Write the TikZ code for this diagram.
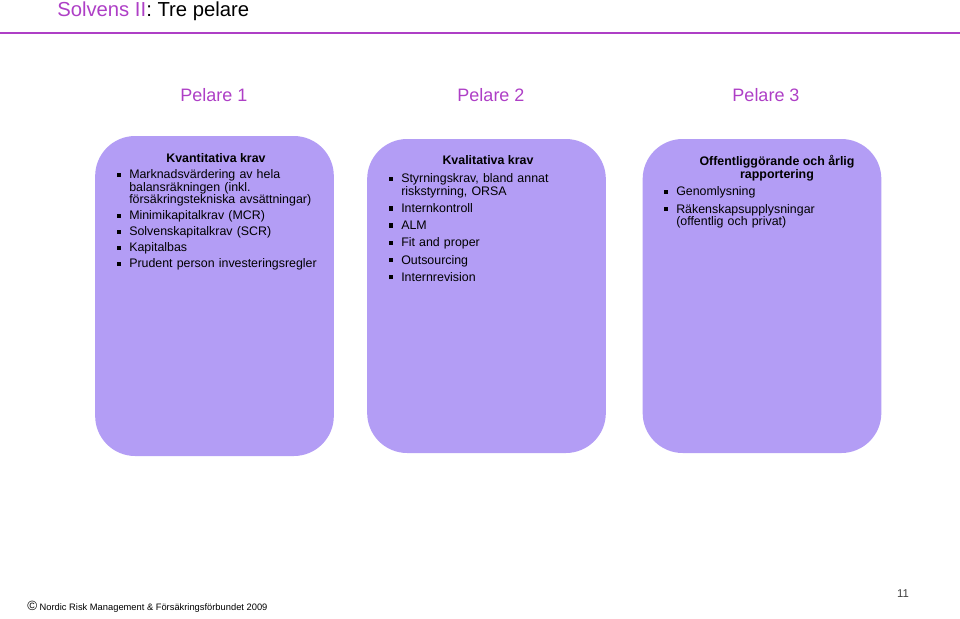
\documentclass[tikz,border=0pt]{standalone}
\usepackage{fontspec}
\setmainfont{Liberation Sans}
\usepackage{enumitem}
\usetikzlibrary{positioning}
\definecolor{Lavendel}{HTML}{B39DF5}
\definecolor{Lila}{HTML}{AE3FC6}

\newcommand{\fyrk}{\raisebox{1.5pt}{\rule{3.2pt}{3.2pt}}}
\newenvironment{punkter}[1][2.6pt]{\begin{itemize}[label=\fyrk, leftmargin=10.5pt, labelsep=6pt,
  itemsep=#1, topsep=0pt, parsep=0pt, partopsep=0pt]}{\end{itemize}}

\begin{document}
\begin{tikzpicture}[x=0.75pt, y=-0.75pt,
  pelare/.style={fill=Lavendel, rounded corners=30pt, inner sep=0pt,
                 minimum width=179pt},
  rubrik/.style={font=\fontsize{9.3}{9.8}\selectfont\bfseries, align=center},
  lista/.style={anchor=north west, inner sep=0pt, text width=160pt,
                font=\fontsize{9.3}{9.4}\selectfont},
  etikett/.style={font=\fontsize{13.5}{16}\selectfont, text=Lila}
]
  \useasboundingbox (0,0) rectangle (960,618);

  % rubrik
  \node[anchor=west, font=\fontsize{15.2}{18}\selectfont, inner sep=0pt] (titel)
    at (57,11) {\textcolor{Lila}{Solvens II}: Tre pelare};
  \coordinate (linjeV) at (0,33);
  \coordinate (linjeH) at (960,33);
  \draw[Lila, line width=2.2pt] (linjeV) -- (linjeH);

  \node[etikett] (e1) at (214,95) {Pelare 1};
  \node[etikett] (e2) at (491,95) {Pelare 2};
  \node[etikett] (e3) at (766,95) {Pelare 3};

  % pelarna
  \node[pelare, minimum height=240pt]   (p1) at (214.5,296) {};
  \node[pelare, minimum height=235.5pt] (p2) at (486.5,296) {};
  \node[pelare, minimum height=235.5pt] (p3) at (762,296) {};

  \node[rubrik] (r1) at (216,158) {Kvantitativa krav};
  \node[lista]  (l1) at (115,166) {%
    \begin{punkter}
      \item Marknadsvärdering av hela\\balansräkningen (inkl.\\försäkringstekniska avsättningar)
      \item Minimikapitalkrav (MCR)
      \item Solvenskapitalkrav (SCR)
      \item Kapitalbas
      \item Prudent person investeringsregler
    \end{punkter}};

  \node[rubrik] (r2) at (488,160.5) {Kvalitativa krav};
  \node[lista]  (l2) at (387,170) {%
    \begin{punkter}[3.5pt]
      \item Styrningskrav, bland annat\\riskstyrning, ORSA
      \item Internkontroll
      \item ALM
      \item Fit and proper
      \item Outsourcing
      \item Internrevision
    \end{punkter}};

  \node[rubrik] (r3) at (777,168) {Offentliggörande och årlig\\rapportering};
  \node[lista]  (l3) at (662,183) {%
    \begin{punkter}[3.5pt]
      \item Genomlysning
      \item Räkenskapsupplysningar\\(offentlig och privat)
    \end{punkter}};

  % sidfot
  \node[anchor=west, inner sep=0pt, font=\fontsize{7}{8}\selectfont] (fot)
    at (27,607) {{\fontsize{10}{10}\selectfont\char"00A9} Nordic Risk Management \& Försäkringsförbundet 2009};
  \node[font=\fontsize{8.5}{10}\selectfont, text=black!75] (sida) at (903,594) {11};
\end{tikzpicture}
\end{document}
